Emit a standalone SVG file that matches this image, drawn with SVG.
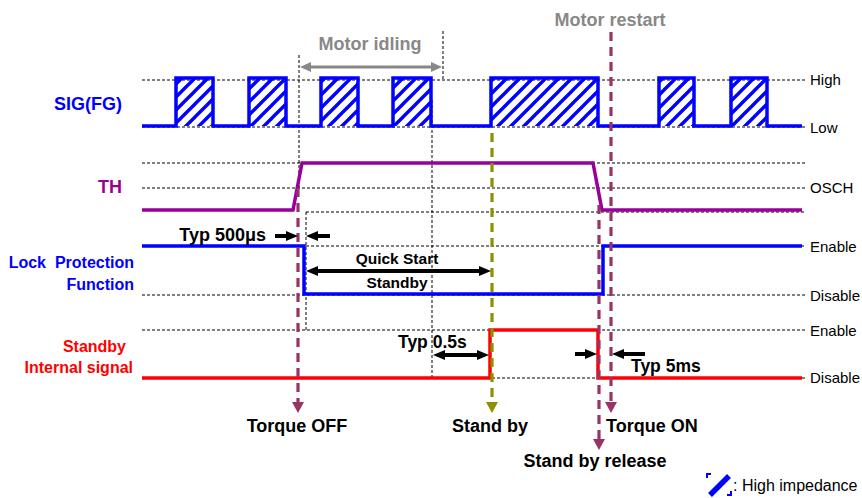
<svg xmlns="http://www.w3.org/2000/svg" width="862" height="498" viewBox="0 0 862 498">
<style>
.dot{stroke:#000;stroke-width:1;stroke-dasharray:3,2;fill:none}
.sig{fill:none;stroke-width:3.5;stroke-linejoin:miter}
.b{font-family:"Liberation Sans",Arial,sans-serif;font-weight:bold}
.r{font-family:"Liberation Sans",Arial,sans-serif;font-size:15px;fill:#000}
.blk{stroke:#000;stroke-width:4;fill:none}
.dm{stroke:#993366;stroke-width:3.2;stroke-dasharray:9,6;fill:none}
.dol{stroke:#8f8f00;stroke-width:3.2;stroke-dasharray:9,6;fill:none}
</style>
<defs>
<pattern id="hatch" patternUnits="userSpaceOnUse" width="13" height="13">
<path d="M-2,2 L2,-2 M0,13 L13,0 M11,15 L15,11" stroke="#0000ff" stroke-width="3.4"/>
</pattern>
<marker id="ab" markerUnits="userSpaceOnUse" markerWidth="12" markerHeight="10" refX="4" refY="5" orient="auto-start-reverse"><path d="M0,0 L12,5 L0,10 z" fill="#000"/></marker>
<marker id="ag" markerUnits="userSpaceOnUse" markerWidth="11" markerHeight="10" refX="4" refY="5" orient="auto-start-reverse"><path d="M0,0 L11,5 L0,10 z" fill="#888"/></marker>
<marker id="am" markerUnits="userSpaceOnUse" markerWidth="12" markerHeight="12" refX="3" refY="6" orient="auto"><path d="M0,0 L11,6 L0,12 z" fill="#993366"/></marker>
<marker id="ao" markerUnits="userSpaceOnUse" markerWidth="12" markerHeight="12" refX="3" refY="6" orient="auto"><path d="M0,0 L11,6 L0,12 z" fill="#8f8f00"/></marker>
</defs>
<rect width="862" height="498" fill="#fff"/>

<g id="grid">
<path class="dot" d="M142,80 H805 M142,127 H805 M142,163 H805 M142,188 H805 M306,212 H805 M306,246 H805 M142,295 H805 M142,330 H805 M142,378 H805"/>
<path class="dot" d="M299,55 V190 M443,31 V80 M432,100 V378 M306,212 V330"/>
</g>

<g id="sig-fg">
<g fill="url(#hatch)">
<rect x="176" y="78" width="37" height="48"/>
<rect x="249" y="78" width="37" height="48"/>
<rect x="321" y="78" width="37" height="48"/>
<rect x="393" y="78" width="38" height="48"/>
<rect x="491" y="78" width="107" height="48"/>
<rect x="659" y="78" width="35" height="48"/>
<rect x="731" y="78" width="36" height="48"/>
</g>
<path class="sig" stroke="#0000ff" d="M142,126 H176 V78 H213 V126 H249 V78 H286 V126 H321 V78 H358 V126 H393 V78 H431 V126 H491 V78 H598 V126 H659 V78 H694 V126 H731 V78 H767 V126 H802"/>
<text class="b" x="122" y="110" font-size="18" fill="#0000ff" text-anchor="end">SIG(FG)</text>
<text class="r" x="810" y="85">High</text>
<text class="r" x="810" y="133">Low</text>
</g>

<g id="th">
<path class="sig" stroke="#990099" d="M142,210 H293 L302,163 H593 L602,210 H802"/>
<text class="b" x="122" y="193" font-size="18" fill="#990099" text-anchor="end">TH</text>
<text class="r" x="810" y="193">OSCH</text>
</g>

<g id="lock">
<path class="sig" stroke="#0000ff" d="M142,246 H304 V294 H603 V246 H802"/>
<text class="b" x="134" y="268" font-size="16" fill="#0000ff" text-anchor="end" xml:space="preserve">Lock  Protection</text>
<text class="b" x="134" y="290" font-size="16" fill="#0000ff" text-anchor="end">Function</text>
<text class="r" x="810" y="252">Enable</text>
<text class="r" x="810" y="301">Disable</text>
</g>

<g id="standby">
<path class="sig" stroke="#ff0000" d="M142,378 H490 V330 H598 V378 H802"/>
<text class="b" x="126" y="352" font-size="16" fill="#ff0000" text-anchor="end">Standby</text>
<text class="b" x="133" y="373" font-size="16" fill="#ff0000" text-anchor="end">Internal signal</text>
<text class="r" x="810" y="336">Enable</text>
<text class="r" x="810" y="383">Disable</text>
</g>

<g id="connectors">
<path d="M307,67 H435" stroke="#888" stroke-width="3" marker-start="url(#ag)" marker-end="url(#ag)"/>
<path class="dm" d="M298,188 V405" marker-end="url(#am)"/>
<path class="dol" d="M492,133 V405" marker-end="url(#ao)"/>
<path class="dm" d="M599,205 V442" marker-end="url(#am)"/>
<path class="dm" d="M611,32 V405" marker-end="url(#am)"/>
<path class="blk" d="M275,236 H290" marker-end="url(#ab)"/>
<path class="blk" d="M330,236 H314" marker-end="url(#ab)"/>
<path class="blk" d="M314,271 H483" marker-start="url(#ab)" marker-end="url(#ab)"/>
<path class="blk" d="M441,355 H481" marker-start="url(#ab)" marker-end="url(#ab)"/>
<path class="blk" d="M575,354 H589" marker-end="url(#ab)"/>
<path class="blk" d="M645,354 H620" marker-end="url(#ab)"/>
</g>

<g id="labels">
<text class="b" x="370" y="50" font-size="18" fill="#888" text-anchor="middle">Motor idling</text>
<text class="b" x="610" y="26" font-size="18" fill="#888" text-anchor="middle">Motor restart</text>
<text class="b" x="266" y="241" font-size="18" text-anchor="end">Typ 500μs</text>
<text class="b" x="397" y="264" font-size="15.5" text-anchor="middle">Quick Start</text>
<text class="b" x="397" y="288" font-size="15.5" text-anchor="middle">Standby</text>
<text class="b" x="398" y="348" font-size="17.5">Typ 0.5s</text>
<text class="b" x="631" y="372" font-size="17.5">Typ 5ms</text>
<text class="b" x="297" y="432" font-size="18" text-anchor="middle">Torque OFF</text>
<text class="b" x="490" y="432" font-size="18" text-anchor="middle">Stand by</text>
<text class="b" x="606" y="432" font-size="18">Torque ON</text>
<text class="b" x="595" y="467" font-size="18" text-anchor="middle">Stand by release</text>
</g>

<g id="legend">
<path d="M710,495 L729,476" stroke="#0000ff" stroke-width="5.5"/>
<path d="M707,478 V474 H711 M731,491 V495 H727" stroke="#0000ff" stroke-width="2" fill="none"/>
<text x="733" y="491" font-family="Liberation Sans, Arial, sans-serif" font-size="16">: High impedance</text>
</g>
</svg>
